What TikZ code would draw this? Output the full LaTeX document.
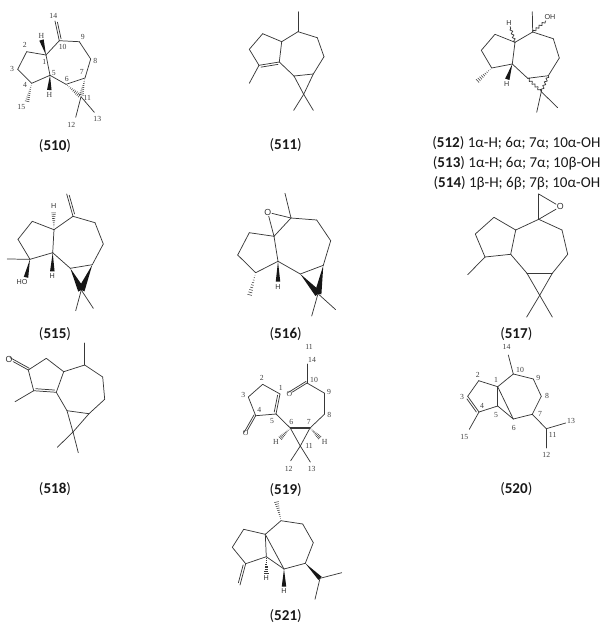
\documentclass[tikz,border=0pt]{standalone}
\usepackage{fontspec}
\setmainfont{Carlito}
\newfontfamily\numfont{Liberation Serif}
\newfontfamily\atomfont{Liberation Sans}
\usetikzlibrary{calc,decorations.pathmorphing}
\definecolor{bondcol}{gray}{0.22}
\tikzset{
  bond/.style={draw=bondcol,line width=0.55pt,line cap=round,line join=round},
  wavybond/.style={bond,decorate,decoration={snake,amplitude=0.9pt,segment length=3pt}},
  num/.style={font=\numfont\fontsize{5.8}{6}\selectfont,text=black!75,inner sep=0pt},
  elem/.style={font=\atomfont\fontsize{5.4}{6}\selectfont,text=black!80,inner sep=0.6pt},
  oxy/.style={font=\atomfont\fontsize{6.6}{7}\selectfont,text=black!80,inner sep=0.4pt},
  cpd/.style={font=\fontsize{11.3}{12}\selectfont,text=black!90,inner sep=0pt},
}
\newcommand{\atoms}[2]{\foreach \n/\x/\y in {#2} \coordinate (c#1-\n) at (\x,\y);}
\newcommand{\bonds}[2]{\foreach \a/\b in {#2} \draw[bond] (c#1-\a) -- (c#1-\b);}
\newcommand{\numbers}[2]{\foreach \n/\x/\y in {#2} \node[num] (n#1-\n) at (\x,\y) {\n};}
\newcommand{\wedgebond}[3][1.7pt]{\fill[bondcol!40!black] (#2) -- ($(#3)!#1!90:(#2)$) -- ($(#3)!#1!-90:(#2)$) -- cycle;}
\newcommand{\hashbond}[2]{\foreach \i in {1,...,10} {
    \pgfmathsetmacro\t{\i/10}\pgfmathsetmacro\w{\t*1.9}
    \draw[bondcol,line width=0.4pt] ($(#1)!\t!(#2)!\w pt!90:(#2)$) -- ($(#1)!\t!(#2)!\w pt!-90:(#2)$);}}
\newcommand{\dblbond}[3]{\draw[bond] (#1) -- (#2);
  \draw[bond] ($(#1)!.08!(#2)!1.6pt!#3:(#2)$) -- ($(#1)!.92!(#2)!1.6pt!#3:(#2)$);}
\begin{document}
\begin{tikzpicture}[x=0.75pt,y=0.75pt,yscale=-1,xscale=1]
  \useasboundingbox (0,0) rectangle (607,626);
  % 510
  \atoms{510}{1/46/55,2/26.7/51.7,3/17.7/69.3,4/31.7/83.3,5/50/75.3,6/66/84.3,7/85/78,8/90.7/59,9/79.3/41.7,10/59.3/40.7,11/81/96.7,12/75.7/117.3,13/94.3/112.3,14/55/21,15/26.7/103.3,ha/41.5/40,hb/49.3/90}
  \bonds{510}{1/2,2/3,3/4,4/5,5/1,1/10,10/9,9/8,8/7,7/6,6/5,11/12,11/13}
  \dblbond{c510-10}{c510-14}{90}
  \hashbond{c510-4}{c510-15}
  \hashbond{c510-6}{c510-11}
  \hashbond{c510-7}{c510-11}
  \wedgebond{c510-1}{c510-ha}
  \wedgebond{c510-5}{c510-hb}
  \numbers{510}{14/53.3/15.7,10/62.7/47,9/82.7/37,2/24.7/44.7,1/44.3/61.7,5/53.7/72.7,8/95.3/60.7,7/81.7/72,6/66.7/78.7,3/12/68.7,4/25/85.3,15/21.3/107.3,11/87.3/98.3,12/71.3/124.7,13/97.3/119}
  \node[num] (h510a) at (41.5,35.7) {H};
  \node[num] (h510b) at (49.3,94.7) {H};
  \node[cpd] (l510) at (55,145.7) {(\textbf{510})};
  % 511
  \atoms{511}{1/281.7/41.7,2/262.7/33.7,3/249.3/49.3,4/259/65.3,5/279.3/62,6/294/76,7/313.3/74,8/324/56.7,9/317.3/37.7,10/298/31.7,11/303.7/94.3,12/293.7/110.3,13/313.3/110.3,14/298/11.7,15/249.3/83.3}
  \bonds{511}{1/2,2/3,3/4,5/1,1/10,10/9,9/8,8/7,7/6,6/5,6/11,7/11,11/12,11/13,10/14,4/15}
  \dblbond{c511-4}{c511-5}{90}
  \node[cpd] (l511) at (285.7,145.3) {(\textbf{511})};
  % 512-514
  \atoms{512}{1/515/42.3,2/495/34.3,3/481.3/50.3,4/491.7/68,5/512.3/64,6/527.7/78.3,7/548.3/75.7,8/559.3/58,9/553.3/38.7,10/532.7/32,11/541.3/91.7,12/536.7/112.3,13/557.7/107.7,14/532.3/11.7,15/476/82.3,hb/507.3/79.3}
  \bonds{512}{1/2,2/3,3/4,4/5,5/1,1/10,10/9,9/8,8/7,7/6,6/5,11/12,11/13,10/14}
  \node[elem] (h512a) at (509,23) {H};
  \node[elem] (h512b) at (506.7,84) {H};
  \node[elem] (oh512) at (550,17.3) {OH};
  \draw[wavybond] (c512-1) -- (h512a);
  \draw[wavybond] (c512-10) -- (oh512);
  \draw[wavybond] (c512-6) -- (c512-11);
  \draw[wavybond] (c512-7) -- (c512-11);
  \hashbond{c512-4}{c512-15}
  \wedgebond{c512-5}{c512-hb}
  \node[cpd] (l512) at (516.4,142.7) {(\textbf{512}) 1α-H; 6α; 7α; 10α-OH};
  \node[cpd] (l513) at (516.7,163.3) {(\textbf{513}) 1α-H; 6α; 7α; 10β-OH};
  \node[cpd] (l514) at (516.9,183.3) {(\textbf{514}) 1β-H; 6β; 7β; 10α-OH};
  % 515
  \atoms{515}{1/54/229.7,2/32.3/221.3,3/18/239.3,4/30/259.3,5/52.7/252.7,6/70.3/268.3,7/92.3/264.7,8/103.3/244,9/95/222.7,10/73/216.3,11/81.3/290,12/75.7/310.7,13/93.3/308.3,14/66.7/194,15/7.3/259,oh/26/277.3,ha/53.5/211,hb/52.3/271.3}
  \bonds{515}{1/2,2/3,3/4,4/5,5/1,1/10,10/9,9/8,8/7,7/6,6/5,11/12,11/13,4/15}
  \dblbond{c515-10}{c515-14}{90}
  \wedgebond{c515-4}{c515-oh}
  \wedgebond{c515-5}{c515-hb}
  \wedgebond[2.6pt]{c515-6}{c515-11}
  \wedgebond[2.6pt]{c515-7}{c515-11}
  \hashbond{c515-1}{c515-ha}
  \node[elem] (oh515) at (22,282) {HO};
  \node[elem] (h515a) at (53.7,206.3) {H};
  \node[elem] (h515b) at (52.3,276.3) {H};
  \node[cpd] (l515) at (55,333.7) {(\textbf{515})};
  % 516
  \atoms{516}{1/274/236.3,2/249.3/232.7,3/237.7/255,4/255.7/272.7,5/278/261.3,6/300.3/274,7/323.3/265.3,8/330.7/240.7,9/316.7/220,10/291/218,11/318/293.7,12/311.7/316,13/335.7/309.7,14/285/193.3,15/249/297.3,hb/278/281.7}
  \bonds{516}{1/2,2/3,3/4,4/5,5/1,1/10,10/9,9/8,8/7,7/6,6/5,11/12,11/13,10/14}
  \node[oxy] (o516) at (267.7,212.3) {O};
  \draw[bond] (c516-1) -- (o516);
  \draw[bond] (c516-10) -- (o516);
  \hashbond{c516-4}{c516-15}
  \wedgebond{c516-5}{c516-hb}
  \wedgebond[2.6pt]{c516-6}{c516-11}
  \wedgebond[2.6pt]{c516-7}{c516-11}
  \node[elem] (h516) at (278,287) {H};
  \node[cpd] (l516) at (285.7,333.7) {(\textbf{516})};
  % 517
  \atoms{517}{1/515.7/230,2/494/217.3,3/475.3/234,4/485/257,5/510.7/254.3,6/527/273.3,7/552.3/273.3,8/567.7/254.3,9/562/230,10/538.7/219.3,11/539.7/295.3,12/526.7/317,13/552.3/317,14/538.7/194,15/467.7/274.7}
  \bonds{517}{1/2,2/3,3/4,4/5,5/1,1/10,10/9,9/8,8/7,7/6,6/5,6/11,7/11,11/12,11/13,10/14,4/15}
  \node[oxy] (o517) at (560.3,206.7) {O};
  \draw[bond] (c517-14) -- (o517);
  \draw[bond] (c517-10) -- (o517);
  \node[cpd] (l517) at (516.3,333.7) {(\textbf{517})};
  % 518
  \atoms{518}{1/63.7/371.7,2/46.3/358.3,3/28.3/370,4/33.7/390.7,5/56.3/392.3,6/67/410.7,7/89/413.7,8/104.7/399.3,9/102.7/377,10/84.7/365,11/73/432,12/57.3/447.3,13/78.3/452.7,14/84.7/343,15/15/401.7}
  \bonds{518}{1/2,2/3,3/4,5/1,1/10,10/9,9/8,8/7,7/6,6/5,6/11,7/11,11/12,11/13,10/14,4/15}
  \dblbond{c518-4}{c518-5}{-90}
  \node[oxy] (o518) at (9,359.3) {O};
  \draw[bond] (c518-3) -- (o518);
  \draw[bond] ($(c518-3)!1.5pt!90:(o518)$) -- ($(o518)!1.5pt!-90:(c518-3)$);
  \node[cpd] (l518) at (55,489.3) {(\textbf{518})};
  % 519
  \atoms{519}{1/280/394,2/262.7/384.3,3/248.3/397,4/255.7/415.7,5/276/414,6/290.3/428,7/310/428,8/324.7/414,9/324.7/393.3,10/307/383,11/300.3/446,12/290.7/460.7,13/310.3/462,14/307/364,ha/279.3/439.3,hb/320.7/438.7}
  \bonds{519}{1/2,2/3,3/4,4/5,5/6,7/8,8/9,9/10,6/11,7/11,11/12,11/13,10/14}
  \draw[bond,line width=0.85pt] (c519-6) -- (c519-7);
  \dblbond{c519-1}{c519-5}{90}
  \hashbond{c519-6}{c519-ha}
  \hashbond{c519-7}{c519-hb}
  \node[num] (o519a) at (245.7,433.3) {O};
  \node[num] (o519b) at (289.3,394) {O};
  \draw[bond] (c519-4) -- (o519a);
  \draw[bond] ($(c519-4)!1.4pt!90:(o519a)$) -- ($(o519a)!1.4pt!-90:(c519-4)$);
  \draw[bond] (c519-10) -- (o519b);
  \draw[bond] ($(c519-10)!1.4pt!90:(o519b)$) -- ($(o519b)!1.4pt!-90:(c519-10)$);
  \node[num] (h519a) at (276,442.3) {H};
  \node[num] (h519b) at (324.7,442.3) {H};
  \numbers{519}{11/309/347,14/312/360,10/314/380.3,9/329/392,8/329.3/415.3,7/308.7/422,6/291.3/422,5/272/420.7,4/259.3/409.7,3/243.3/394.7,2/261.7/378.3,1/280.7/388.3}
  \node[num] (n519-11b) at (309,445.7) {11};
  \node[num] (n519-12) at (288.7,468.7) {12};
  \node[num] (n519-13) at (311.7,468.7) {13};
  \node[cpd] (l519) at (285.7,490) {(\textbf{519})};
  % 520
  \atoms{520}{1/497.7/386.7,2/478.7/380.7,3/467.7/396.3,4/479/412,5/497.7/406,6/513.3/419,7/532.3/414.3,8/541.3/396.3,9/533.3/379,10/513.3/374,11/546.3/428.7,12/546.3/448,13/565.7/423,14/508.3/355,15/469.3/429.3}
  \bonds{520}{1/2,2/3,4/5,5/1,1/10,10/9,9/8,8/7,7/6,6/5,1/6,7/11,11/12,11/13,10/14,4/15}
  \dblbond{c520-3}{c520-4}{90}
  \numbers{520}{14/506.5/347,10/520/370.3,9/538.3/378,8/547/395.7,7/540/414.3,6/513.7/428,5/496/415,4/482/406,3/462/397,2/477.7/374.7,1/496/380.3,15/464.3/437,11/552.7/435,12/546.3/455,13/571/421}
  \node[cpd] (l520) at (516.3,489.3) {(\textbf{520})};
  % 521
  \atoms{521}{1/265.3/534.3,2/243.7/529.3,3/232.3/547.3,4/245.7/563.7,5/266.3/556.7,6/284/569,7/305.3/563.3,8/313.3/542.7,9/302.7/524,10/281/520.7,11/320/578.3,12/341.7/572.7,13/315/599.3,14/240/585,15/276/500,ha/266.3/575,hb/284/586.7}
  \bonds{521}{1/2,2/3,3/4,4/5,5/1,1/10,10/9,9/8,8/7,7/6,6/5,1/6,11/12,11/13}
  \dblbond{c521-4}{c521-14}{90}
  \hashbond{c521-10}{c521-15}
  \hashbond{c521-5}{c521-ha}
  \wedgebond{c521-6}{c521-hb}
  \wedgebond{c521-7}{c521-11}
  \node[elem] (h521a) at (266.3,578.3) {H};
  \node[elem] (h521b) at (284,590.7) {H};
  \node[cpd] (l521) at (285.7,615.7) {(\textbf{521})};
\end{tikzpicture}
\end{document}
